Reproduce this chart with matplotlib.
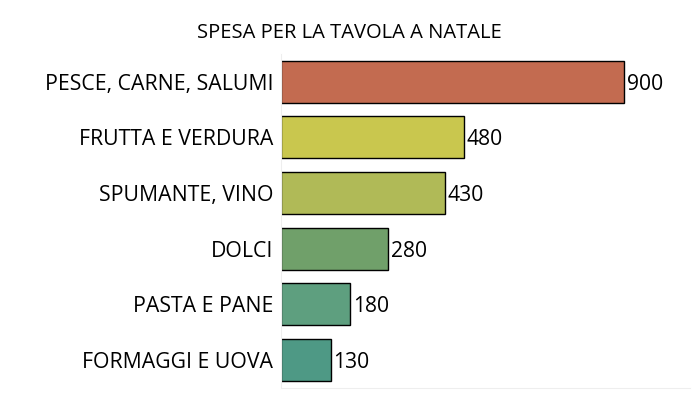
import matplotlib
matplotlib.use("Agg")
import matplotlib.pyplot as plt

categories = ["PESCE, CARNE, SALUMI", "FRUTTA E VERDURA", "SPUMANTE, VINO",
              "DOLCI", "PASTA E PANE", "FORMAGGI E UOVA"]
values = [900, 480, 430, 280, 180, 130]
colors = ["#C36B50", "#C9C74E", "#B0BA57", "#70A06A", "#5E9F7F", "#4E9985"]

plt.rcParams["font.family"] = ["Open Sans", "DejaVu Sans"]

fig = plt.figure(figsize=(6.99, 3.99), dpi=100)
ax = fig.add_axes([0.402, 0.028, 0.585, 0.837])

y = list(range(len(categories)))
ax.barh(y, values, height=0.75, color=colors, edgecolor="black", linewidth=1)
for yi, v in zip(y, values):
    ax.text(v + 8, yi, str(v), va="center_baseline", ha="left", fontsize=15.2)

ax.set_yticks(y)
ax.set_yticklabels(categories, fontsize=15.3, va="center_baseline")
ax.set_ylim(len(categories) - 0.5, -0.5)
ax.set_xlim(0, 1073)
ax.set_xticks([])
ax.tick_params(axis="y", length=0, pad=5.5)
for s in ["top", "right"]:
    ax.spines[s].set_visible(False)
for s in ["left", "bottom"]:
    ax.spines[s].set_color("#eeeeee")

fig.text(0.5, 0.917, "SPESA PER LA TAVOLA A NATALE", ha="center", va="center", fontsize=14.5)

fig.savefig("out.png", dpi=100)
